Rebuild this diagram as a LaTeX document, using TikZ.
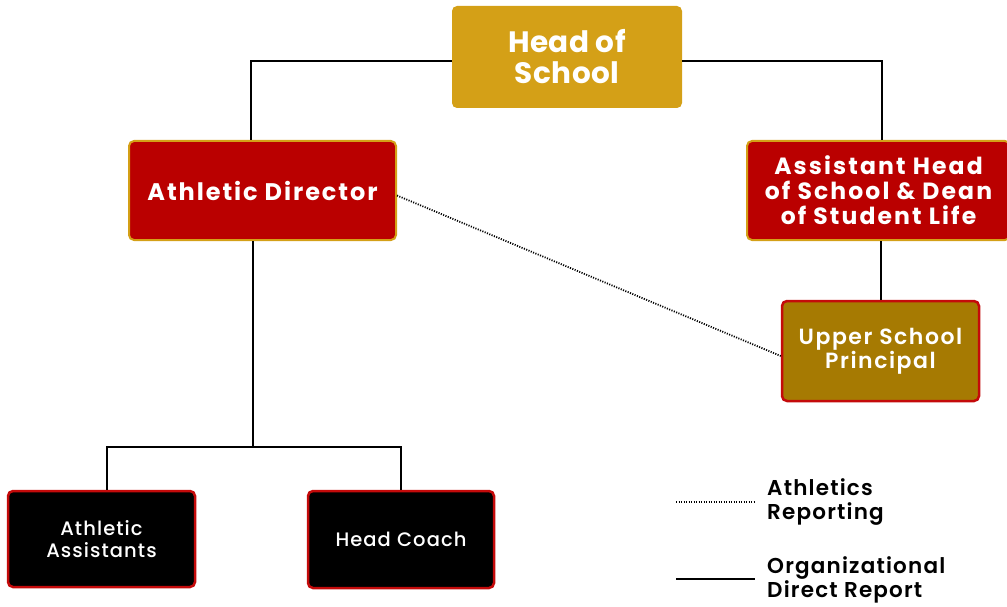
\documentclass[tikz,border=0pt]{standalone}
\usepackage{fontspec}
\setmainfont{Poppins}
\newfontfamily\hosfont[LetterSpace=1.5]{Poppins Bold}
\newfontfamily\adfont[LetterSpace=8]{Poppins Bold}
\newfontfamily\ahfont[LetterSpace=9]{Poppins Bold}
\newfontfamily\uspfont[LetterSpace=7]{Poppins SemiBold}
\newfontfamily\blkfont[LetterSpace=5.5]{Poppins Medium}
\newfontfamily\legfont[LetterSpace=5.5]{Poppins SemiBold}
\definecolor{hosgold}{HTML}{D4A017}
\definecolor{adred}{HTML}{BA0000}
\definecolor{bred}{HTML}{C40A0A}
\definecolor{olive}{HTML}{A67A02}
\tikzset{
  box/.style={rounded corners=5pt, inner sep=0pt, align=center, text=white},
  link/.style={line width=2pt, black},
  dotlink/.style={line width=1.8pt, black, dash pattern=on 1.1pt off 1.4pt},
  legtext/.style={anchor=west, align=left, inner sep=0pt, font=\legfont\fontsize{21.5}{24}\selectfont}
}
\begin{document}
\begin{tikzpicture}[x=1pt,y=-1pt]
\useasboundingbox (0,0) rectangle (1007,607);
\node[box, fill=hosgold, minimum width=230pt, minimum height=102pt, font=\hosfont\fontsize{29.5}{31}\selectfont] (hos) at (567,57) {Head of\\School};
\node[box, fill=adred, draw=hosgold, line width=2pt, minimum width=267pt, minimum height=99pt, font=\adfont\fontsize{24}{26}\selectfont] (ad) at (262.5,190.5) {Athletic Director};
\node[box, fill=adred, draw=hosgold, line width=2pt, minimum width=263pt, minimum height=99pt, font=\ahfont\fontsize{23.5}{25}\selectfont] (ah) at (878.5,190.5) {Assistant Head\\of School \& Dean\\of Student Life};
\node[box, fill=olive, draw=bred, line width=2.5pt, minimum width=197pt, minimum height=100pt, font=\uspfont\fontsize{22}{24}\selectfont] (usp) at (880.5,351) {Upper School\\Principal};
\node[box, fill=black, draw=bred, line width=2.5pt, minimum width=187pt, minimum height=96pt, font=\blkfont\fontsize{19.5}{21.5}\selectfont] (aa) at (101.5,539) {Athletic\\Assistants};
\node[box, fill=black, draw=bred, line width=2.5pt, minimum width=186pt, minimum height=97pt, font=\blkfont\fontsize{19.5}{21.5}\selectfont] (hc) at (401,539.5) {Head Coach};
\coordinate (tl) at (251,61);
\coordinate (tr) at (882,61);
\coordinate (j) at (253,447);
\coordinate (aaj) at (107,447);
% connectors
\draw[link] (hos.west |- tl) -- (tl) -- (tl |- ad.north);
\draw[link] (hos.east |- tr) -- (tr) -- (tr |- ah.north);
\draw[link] (ah.south -| usp.north) -- (usp.north);
\draw[link] (ad.south -| j) -- (j);
\draw[link] (aa.north -| aaj) |- (j) -| (hc.north);
\draw[dotlink] ([yshift=-5pt]ad.east) -- ([yshift=-5pt]usp.west);
% legend
\coordinate (l1a) at (676,502);
\coordinate (l1b) at (755,502);
\coordinate (l2a) at (676,579);
\coordinate (l2b) at (755,579);
\draw[dotlink] (l1a) -- (l1b);
\draw[link] (l2a) -- (l2b);
\node[legtext] (lt1) at (767,502) {Athletics\\Reporting};
\node[legtext] (lt2) at (767,580) {Organizational\\Direct Report};
\end{tikzpicture}
\end{document}
